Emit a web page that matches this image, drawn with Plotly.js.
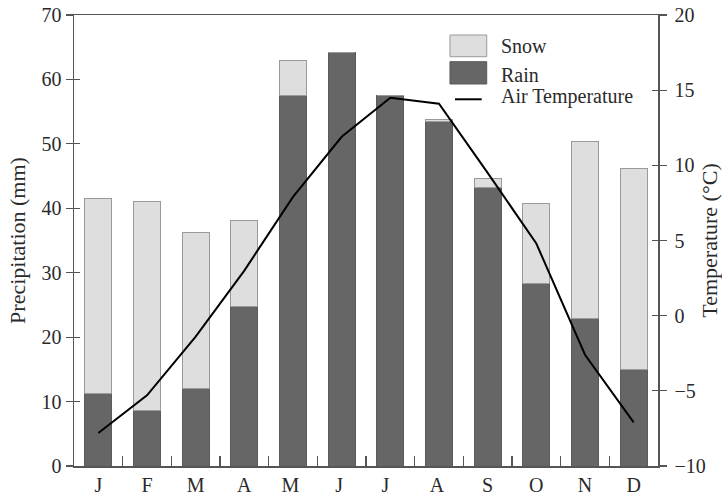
<!DOCTYPE html>
<html>
<head>
<meta charset="utf-8">
<script src="https://cdn.plot.ly/plotly-3.0.1.min.js"></script>
<style>html,body{margin:0;padding:0;background:#fff;}#chart{width:722px;height:495px;}</style>
</head>
<body>
<div id="chart"></div>
<script>
const months = ["J","F","M","A","M ","J ","J  ","A ","S","O","N","D"];
const rain = [11.2, 8.6, 12.0, 24.7, 57.5, 64.2, 57.5, 53.5, 43.3, 28.3, 22.9, 15.0];
const snow = [30.3, 32.4, 24.3, 13.4, 5.4, 0, 0, 0.25, 1.4, 12.5, 27.4, 31.1];
const temperature = [-7.8, -5.3, -1.4, 3.0, 7.9, 11.9, 14.5, 14.1, 9.5, 4.8, -2.6, -7.1];
const precipTicks = [0, 10, 20, 30, 40, 50, 60, 70];
const tempTicks = [-10, -5, 0, 5, 10, 15, 20];

const FONT = "Liberation Serif, Times New Roman, serif";
const AXC = "#555555";
const TXT = "#2a2a2a";

const traces = [
  {type: "bar", x: months, y: rain, name: "Rain", width: 0.56,
   marker: {color: "#666666", line: {color: "#5a5a5a", width: 1}}, hoverinfo: "skip"},
  {type: "bar", x: months, y: snow, name: "Snow", width: 0.56,
   marker: {color: "#dedede", line: {color: "#9a9a9a", width: 1}}, hoverinfo: "skip"},
  {type: "scatter", mode: "lines", x: months, y: temperature, yaxis: "y2", name: "Air Temperature",
   line: {color: "#000000", width: 2}, hoverinfo: "skip"},
  // helper traces so the inner-tick overlay axes are drawn
  {type: "scatter", mode: "lines", x: months, y: rain, yaxis: "y3", opacity: 0, showlegend: false, hoverinfo: "skip"},
  {type: "scatter", mode: "lines", x: months, y: temperature, yaxis: "y4", opacity: 0, showlegend: false, hoverinfo: "skip"}
];

const layout = {
  width: 722, height: 495,
  margin: {l: 74, r: 64, t: 15, b: 29},
  paper_bgcolor: "#ffffff", plot_bgcolor: "#ffffff",
  barmode: "stack", showlegend: false,
  font: {family: FONT, size: 20, color: TXT},
  xaxis: {type: "category", categoryorder: "array", categoryarray: months,
    range: [-0.5, 11.5], tickson: "boundaries", ticks: "inside", ticklen: 10, tickcolor: AXC, tickwidth: 1.2,
    showline: true, linecolor: AXC, linewidth: 1.5, mirror: true, showgrid: false, zeroline: false,
    tickfont: {family: FONT, size: 20, color: TXT}, fixedrange: true},
  yaxis: {range: [0, 70], tickvals: precipTicks, ticks: "outside", ticklen: 7, tickcolor: AXC, tickwidth: 1.2,
    showline: true, linecolor: AXC, linewidth: 1.5, showgrid: false, zeroline: false,
    tickfont: {family: FONT, size: 20, color: TXT},
    title: {text: "Precipitation (mm)", font: {family: FONT, size: 22, color: TXT}, standoff: 10}},
  yaxis2: {overlaying: "y", side: "right", range: [-10, 20], tickvals: tempTicks, ticks: "outside", ticklen: 7,
    ticklabelstandoff: 4,
    tickcolor: AXC, tickwidth: 1.2, showline: true, linecolor: AXC, linewidth: 1.5, showgrid: false, zeroline: false,
    tickfont: {family: FONT, size: 20, color: TXT},
    title: {text: "Temperature (°C)", font: {family: FONT, size: 22, color: TXT}, standoff: 8}},
  yaxis3: {overlaying: "y", side: "left", range: [0, 70], tickvals: precipTicks, ticks: "inside", ticklen: 6,
    tickcolor: AXC, tickwidth: 1.2, showticklabels: false, showline: false, showgrid: false, zeroline: false},
  yaxis4: {overlaying: "y", side: "right", range: [-10, 20], tickvals: tempTicks, ticks: "inside", ticklen: 6,
    tickcolor: AXC, tickwidth: 1.2, showticklabels: false, showline: false, showgrid: false, zeroline: false},
  shapes: [
    {type: "rect", xref: "paper", yref: "paper", x0: 0.6438, x1: 0.7067, y0: 0.9075, y1: 0.9557,
     fillcolor: "#dedede", line: {color: "#9a9a9a", width: 1}},
    {type: "rect", xref: "paper", yref: "paper", x0: 0.6438, x1: 0.7067, y0: 0.847, y1: 0.8965,
     fillcolor: "#666666", line: {color: "#5a5a5a", width: 1}},
    {type: "line", xref: "paper", yref: "paper", x0: 0.6524, x1: 0.6981, y0: 0.8131, y1: 0.8131,
     line: {color: "#000", width: 2}}
  ],
  annotations: [
    {xref: "paper", yref: "paper", x: 0.727, y: 0.9313, xanchor: "left", yanchor: "middle", showarrow: false,
     text: "Snow", font: {family: FONT, size: 20, color: TXT}},
    {xref: "paper", yref: "paper", x: 0.727, y: 0.867, xanchor: "left", yanchor: "middle", showarrow: false,
     text: "Rain", font: {family: FONT, size: 20, color: TXT}},
    {xref: "paper", yref: "paper", x: 0.727, y: 0.8188, xanchor: "left", yanchor: "middle", showarrow: false,
     text: "Air Temperature", font: {family: FONT, size: 20, color: TXT}}
  ]
};

Plotly.newPlot("chart", traces, layout, {staticPlot: true, displayModeBar: false});
</script>
</body>
</html>
